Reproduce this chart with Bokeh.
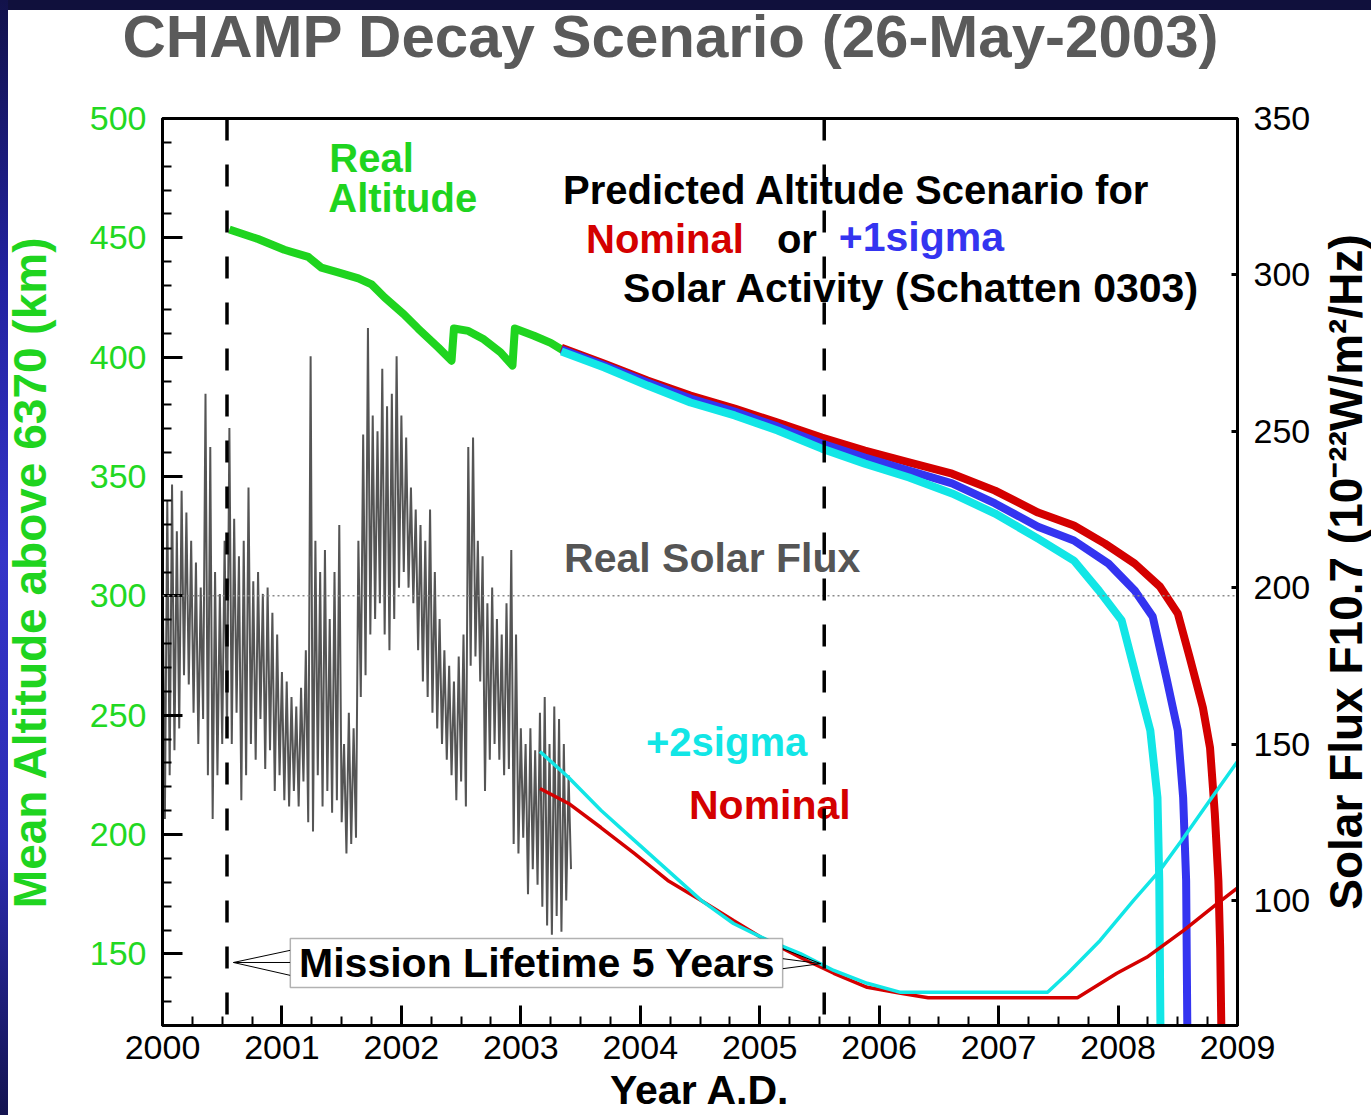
import math
import numpy as np
from bokeh.plotting import figure
from bokeh.models import (Range1d, LinearAxis, SingleIntervalTicker, FixedTicker, Span,
                          Label, BoxAnnotation)
from bokeh.layouts import column, row
from bokeh.embed import file_html
from bokeh.resources import INLINE

# ---------------- data ----------------
# Real solar flux F10.7 (right axis): alternating peak/trough samples,
# peaks at 2000.00 + 0.04*k, troughs 0.02 yr later
flux_t0 = 2000.0
flux_dt = 0.04
flux_peaks = [210, 228, 233, 218, 231, 224, 215, 208, 200, 262, 245, 205, 198, 215, 251,
              222, 210, 215, 232, 202, 205, 198, 200, 192, 185, 173, 170, 165, 162, 168,
              180, 274, 215, 205, 212, 190, 205, 220, 150, 160, 155, 215, 249, 283, 255,
              250, 270, 258, 262, 274, 255, 248, 232, 225, 220, 215, 225, 205, 190, 180,
              175, 170, 178, 185, 245, 248, 215, 210, 195, 200, 190, 185, 195, 212, 185,
              155, 150, 155, 148, 160, 165, 150, 162, 158, 150, 140]
flux_troughs = [126, 140, 148, 155, 172, 169, 160, 150, 158, 140, 126, 140, 150, 152, 150,
                160, 132, 140, 150, 145, 158, 142, 148, 135, 140, 132, 130, 135, 130, 138,
                125, 122, 140, 130, 135, 128, 132, 125, 115, 118, 120, 165, 172, 185, 190,
                195, 185, 180, 190, 200, 205, 200, 195, 180, 170, 165, 160, 155, 150, 145,
                140, 132, 138, 130, 175, 178, 170, 135, 145, 150, 145, 140, 142, 118, 115,
                120, 102, 110, 105, 98, 92, 89, 95, 90, 100, 110]

# Real altitude (left axis, km)
real_alt_year = [2000.56, 2000.80, 2001.02, 2001.22, 2001.33, 2001.47, 2001.64, 2001.75,
                 2001.86, 2002.02, 2002.14, 2002.31, 2002.42, 2002.44, 2002.56, 2002.69,
                 2002.83, 2002.93, 2002.95, 2003.11, 2003.25, 2003.38]
real_alt_km = [453.5, 449.5, 445.0, 442.0, 437.5, 435.5, 433.0, 430.5, 425.0, 418.0, 412.0,
               404.0, 398.5, 412.0, 411.0, 407.5, 402.0, 396.5, 412.0, 409.0, 406.0, 402.0]

# Predicted altitude scenarios (left axis, km)
nom_alt_year = [2003.34, 2003.70, 2004.06, 2004.42, 2004.79, 2005.15, 2005.52, 2005.88,
                2006.25, 2006.61, 2006.97, 2007.33, 2007.63, 2007.89, 2008.14, 2008.35,
                2008.50, 2008.60, 2008.71, 2008.77, 2008.81, 2008.84, 2008.855, 2008.865]
nom_alt_km = [404.0, 397.3, 390.2, 383.9, 378.5, 372.6, 366.3, 360.9, 355.9, 351.2, 344.1,
              334.9, 329.5, 321.9, 313.5, 303.9, 292.6, 274.2, 253.2, 236.4, 208.8, 180.7,
              152.6, 118.0]
s1_alt_year = [2003.34, 2003.70, 2004.06, 2004.42, 2004.79, 2005.15, 2005.52, 2005.88,
               2006.25, 2006.61, 2006.97, 2007.33, 2007.63, 2007.92, 2008.14, 2008.29,
               2008.41, 2008.50, 2008.545, 2008.57, 2008.58]
s1_alt_km = [403.2, 396.5, 389.4, 382.7, 377.2, 370.9, 363.8, 357.9, 352.5, 347.1, 338.7,
             329.0, 323.2, 313.5, 302.2, 291.3, 264.5, 243.6, 215.5, 180.7, 118.0]
s2_alt_year = [2003.34, 2003.70, 2004.06, 2004.42, 2004.79, 2005.15, 2005.52, 2005.88,
               2006.25, 2006.61, 2006.97, 2007.33, 2007.63, 2007.84, 2008.03, 2008.16,
               2008.27, 2008.33, 2008.345, 2008.355]
s2_alt_km = [402.4, 395.7, 388.1, 381.0, 375.6, 369.3, 361.7, 355.4, 349.6, 342.9, 334.5,
             324.0, 314.8, 302.2, 289.7, 264.5, 243.6, 215.5, 180.7, 118.0]

# Predicted solar flux (right axis)
nom_flux_year = [2003.16, 2003.40, 2003.67, 2003.95, 2004.23, 2004.51, 2004.78, 2005.01,
                 2005.34, 2005.62, 2005.90, 2006.18, 2006.41, 2007.66, 2007.99, 2008.24,
                 2008.55, 2008.83, 2009.00]
nom_flux = [135.8, 131.0, 123.3, 115.0, 106.4, 100.0, 93.6, 88.2, 81.8, 76.7, 72.2, 70.3,
            68.9, 68.9, 76.7, 81.8, 90.4, 99.0, 104.0]
s2_flux_year = [2003.16, 2003.40, 2003.67, 2003.95, 2004.23, 2004.51, 2004.78, 2005.07,
                2005.34, 2005.62, 2005.90, 2006.18, 2007.41, 2007.58, 2007.85, 2008.13,
                2008.35, 2008.55, 2008.75, 2009.00]
s2_flux = [147.6, 139.3, 128.8, 119.2, 109.6, 100.0, 92.6, 87.2, 83.0, 77.6, 73.5, 70.6,
           70.6, 76.7, 87.2, 100.0, 109.6, 120.1, 131.0, 144.4]

launch_year = 2000.54
end_mission_year = 2005.54
ref_alt_line = 300

# ---------------- styling ----------------
RED = "#d40000"
BLUE = "#3434f0"
CYAN = "#12e6e6"
GREEN = "#1fd41f"
GRAY = "#555555"
FONT = "Liberation Sans"

TITLE_H = 80
TOP = 118 - TITLE_H
BOTTOM = 90

# ---------------- title strip ----------------
tf = figure(width=1371, height=TITLE_H, output_backend="svg", toolbar_location=None,
            x_range=Range1d(0, 1), y_range=Range1d(0, 1),
            x_axis_location=None, y_axis_location=None,
            min_border_left=122, min_border_right=0, min_border_top=0, min_border_bottom=0)
tf.outline_line_color = None
tf.xgrid.visible = False
tf.ygrid.visible = False
tf.border_fill_color = "white"
tf.background_fill_color = "white"
tf.title.text = "CHAMP Decay Scenario (26-May-2003)"
tf.title.text_font = FONT
tf.title.text_font_size = "60px"
tf.title.text_font_style = "bold"
tf.title.text_color = "#5a5a5a"
tf.title.align = "left"
tf.title.offset = 0
tf.title.standoff = 0

# ---------------- main plot ----------------
p = figure(width=1316, height=1115 - TITLE_H, output_backend="svg", toolbar_location=None,
           x_range=Range1d(2000, 2009), y_range=Range1d(120, 500),
           min_border_left=161, min_border_right=79, min_border_top=TOP,
           min_border_bottom=BOTTOM)
p.outline_line_color = "black"
p.outline_line_width = 3
p.background_fill_color = "white"
p.border_fill_color = "white"
p.xgrid.visible = False
p.ygrid.visible = False
p.extra_y_ranges = {"flux": Range1d(60, 350)}

xa = p.xaxis[0]
xa.ticker = SingleIntervalTicker(interval=1, num_minor_ticks=4)
ya = p.yaxis[0]
ya.ticker = SingleIntervalTicker(interval=50, num_minor_ticks=5)
for ax, col in ((xa, "black"), (ya, "#22d822")):
    ax.major_tick_in = 20
    ax.major_tick_out = 0
    ax.minor_tick_in = 9
    ax.minor_tick_out = 0
    ax.axis_line_width = 3
    ax.major_tick_line_width = 3
    ax.minor_tick_line_width = 2
    ax.major_label_text_font = FONT
    ax.major_label_text_font_size = "34px"
    ax.major_label_text_color = col
xa.major_label_standoff = 10
ya.major_label_standoff = 16

xa.axis_label = "Year A.D."
xa.axis_label_text_font = FONT
xa.axis_label_text_font_size = "41px"
xa.axis_label_text_font_style = "bold"
xa.axis_label_text_color = "black"
xa.axis_label_standoff = 5

ya.axis_label = "Mean Altitude above 6370 (km)"
ya.axis_label_text_font = FONT
ya.axis_label_text_font_size = "46px"
ya.axis_label_text_font_style = "bold"
ya.axis_label_text_color = GREEN
ya.axis_label_standoff = 31

ra = LinearAxis(y_range_name="flux", ticker=SingleIntervalTicker(interval=50, num_minor_ticks=0))
ra.major_tick_in = 6
ra.major_tick_out = 0
ra.minor_tick_line_color = None
ra.axis_line_width = 3
ra.major_tick_line_width = 3
ra.major_label_text_font = FONT
ra.major_label_text_font_size = "34px"
ra.major_label_text_color = "black"
ra.major_label_standoff = 16
p.add_layout(ra, "right")

# real solar flux (interleave peaks and troughs)
fx, fy = [], []
for k, (hi, lo) in enumerate(zip(flux_peaks, flux_troughs)):
    fx += [flux_t0 + flux_dt * k, flux_t0 + flux_dt * k + flux_dt / 2]
    fy += [hi, lo]
p.line(fx, fy, y_range_name="flux", line_color=GRAY, line_width=2)

# reference dotted line
p.add_layout(Span(location=ref_alt_line, dimension="width", line_color="#8a8a8a",
                  line_width=1.5, line_dash="2 3"))

# real altitude
p.line(real_alt_year, real_alt_km, line_color=GREEN, line_width=8, line_join="round")

# predicted altitude curves
p.line(nom_alt_year, nom_alt_km, line_color=RED, line_width=8, line_join="round")
p.line(s1_alt_year, s1_alt_km, line_color=BLUE, line_width=8, line_join="round")
p.line(s2_alt_year, s2_alt_km, line_color=CYAN, line_width=8, line_join="round")

# predicted solar flux
p.line(nom_flux_year, nom_flux, y_range_name="flux", line_color=RED, line_width=3.5)
p.line(s2_flux_year, s2_flux, y_range_name="flux", line_color=CYAN, line_width=3.5)


def lab(x, y, text, color="black", size="40px", align="left"):
    p.add_layout(Label(x=x, y=y, text=text, text_color=color, text_font=FONT,
                       text_font_size=size, text_font_style="bold", text_align=align,
                       text_baseline="middle"))


lab(2001.397, 483.4, "Real", color=GREEN)
lab(2001.388, 466.7, "Altitude", color=GREEN)
lab(2003.354, 470.2, "Predicted Altitude Scenario for", size="40px")
lab(2003.546, 449.7, "Nominal", color=RED, size="40px")
lab(2005.144, 449.7, "or", size="40px")
lab(2005.662, 450.2, "+1sigma", color=BLUE, size="41px")
lab(2003.856, 428.8, "Solar Activity (Schatten 0303)", size="41px")
lab(2003.362, 315.7, "Real Solar Flux", color=GRAY, size="41px")
lab(2004.048, 238.9, "+2sigma", color=CYAN)
lab(2004.408, 212.5, "Nominal", color=RED, size="41px")

# mission lifetime box + arrows
p.add_layout(BoxAnnotation(left=2001.07, right=2005.192, bottom=135.9, top=156.4,
                           fill_color="white", fill_alpha=1.0, line_color="black",
                           line_width=1.5))
p.multi_line([[2000.594, 2001.07], [2000.594, 2001.07], [2000.594, 2001.07],
              [2005.51, 2005.192], [2005.51, 2005.192], [2005.51, 2005.192]],
             [[146.4, 151.5], [146.4, 146.4], [146.4, 141.0],
              [145.9, 152.2], [145.9, 148.0], [145.9, 143.8]],
             line_color="black", line_width=1)
lab(2003.137, 146.3, "Mission Lifetime 5 Years", size="41px", align="center")

# vertical dashed mission lines
for loc in (launch_year, end_mission_year):
    p.add_layout(Span(location=loc, dimension="height", line_color="black",
                      line_width=3.5, line_dash="22 24"))

# ---------------- right-hand axis title strip ----------------
sf = figure(width=55, height=1115 - TITLE_H, output_backend="svg", toolbar_location=None,
            x_range=Range1d(0, 1), y_range=Range1d(0, 1),
            x_axis_location=None, y_axis_location="left",
            min_border_left=54, min_border_right=0, min_border_top=TOP,
            min_border_bottom=BOTTOM)
sf.outline_line_color = None
sf.xgrid.visible = False
sf.ygrid.visible = False
sf.border_fill_color = "white"
sf.background_fill_color = "white"
sa = sf.yaxis[0]
sa.ticker = FixedTicker(ticks=[])
sa.axis_line_color = None
sa.major_tick_line_color = None
sa.minor_tick_line_color = None
sa.major_tick_in = 0
sa.major_tick_out = 0
sa.minor_tick_in = 0
sa.minor_tick_out = 0
sa.major_label_standoff = 0
sa.axis_label = "Solar Flux F10.7 (10\u207b\u00b2\u00b2W/m\u00b2/Hz)"
sa.axis_label_text_font = FONT
sa.axis_label_text_font_size = "46px"
sa.axis_label_text_font_style = "bold"
sa.axis_label_text_color = "black"
sa.axis_label_standoff = 0

layout = column(tf, row(p, sf, spacing=0), spacing=0)

# navy page frame (top band and left strip)
css = ("<style>body::before{content:'';position:fixed;left:0;top:0;width:100%;height:10px;"
       "background:#10103c;z-index:9999;}"
       "body::after{content:'';position:fixed;left:0;top:0;width:8px;height:100%;"
       "background:linear-gradient(to bottom,#12124a 0%,#2222a0 25%,#3434c8 50%,"
       "#2c2cb4 75%,#141450 100%);z-index:9999;}</style>")
html = file_html(layout, INLINE).replace("</head>", css + "</head>", 1)
open("out.html", "w").write(html)
